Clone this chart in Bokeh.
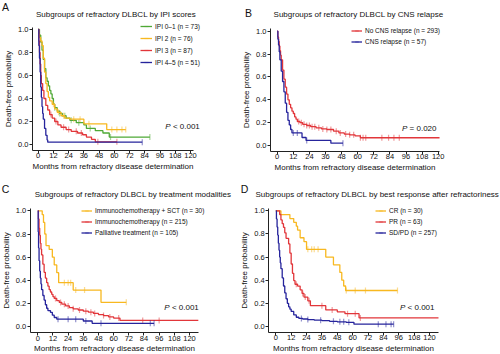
import numpy as np
from bokeh.plotting import figure
from bokeh.layouts import gridplot
from bokeh.models import (Label, Legend, LegendItem, FixedTicker, LinearAxis,
                          NumeralTickFormatter, Range1d)
from bokeh.embed import file_html
from bokeh.resources import INLINE

FONT = "Liberation Sans"
GREEN = "#4FA936"
YELLOW = "#F8B820"
RED = "#E2363A"
BLUE = "#26249C"
TXT = "#111111"

X_TICKS = [0, 12, 24, 36, 48, 60, 72, 84, 96, 108, 120]
Y_TICKS = [0.0, 0.2, 0.4, 0.6, 0.8, 1.0]

# ---------------- Panel A: IPI scores ----------------
a_green_t = [0, 1, 2, 3, 4, 5, 6, 7, 8, 9, 10, 11, 12, 13, 15, 17, 19, 22, 25, 30, 36, 38, 45, 51, 56]
a_green_s = [1, 0.95, 0.89, 0.82, 0.74, 0.66, 0.58, 0.55, 0.51, 0.47, 0.44, 0.40, 0.35, 0.32, 0.29, 0.27, 0.25, 0.23, 0.21, 0.19, 0.17, 0.14, 0.12, 0.10, 0.065]
a_green_end = 88
a_green_cens = [13, 17, 21, 26, 32, 41, 57, 88]

a_yellow_t = [0, 0.5, 1, 2, 3, 4, 5, 6, 7, 8, 9, 11, 13, 15, 18, 21, 25, 36, 54]
a_yellow_s = [1, 0.96, 0.93, 0.90, 0.86, 0.75, 0.63, 0.53, 0.46, 0.41, 0.38, 0.35, 0.31, 0.28, 0.25, 0.23, 0.22, 0.18, 0.13]
a_yellow_end = 69
a_yellow_cens = [12, 16, 20, 28, 33, 40, 58, 62, 66, 69]

a_red_t = [0, 0.5, 1, 1.5, 2, 2.5, 3.5, 4.5, 6, 7.5, 9, 11, 13, 15.5, 18, 22, 26, 31, 35, 38, 42, 45]
a_red_s = [1, 0.90, 0.80, 0.70, 0.60, 0.53, 0.47, 0.40, 0.34, 0.30, 0.26, 0.23, 0.20, 0.17, 0.15, 0.13, 0.115, 0.10, 0.085, 0.065, 0.045, 0.023]
a_red_end = 62
a_red_cens = [10, 14, 20, 24, 30, 34, 47, 62]

a_blue_t = [0, 0.5, 1, 1.5, 2, 2.5, 3, 3.5, 4, 5, 6, 7, 7.5]
a_blue_s = [1, 0.86, 0.75, 0.63, 0.50, 0.41, 0.33, 0.27, 0.22, 0.14, 0.08, 0.04, 0.02]
a_blue_end = 82
a_blue_cens = [82]

a_labels = ["IPI 0\u20131 (n = 73)", "IPI 2 (n = 76)", "IPI 3 (n = 87)", "IPI 4\u20135 (n = 51)"]

# ---------------- Panel B: CNS relapse ----------------
b_red_t = [0, 0.5, 1, 1.5, 2, 2.5, 3, 4, 5, 6, 7, 8, 9, 10, 11, 12, 13, 14, 15, 17, 19, 22, 25, 29, 33, 37, 42, 46, 50, 54, 58, 62]
b_red_s = [1, 0.95, 0.91, 0.87, 0.83, 0.79, 0.75, 0.66, 0.58, 0.51, 0.45, 0.40, 0.36, 0.33, 0.30, 0.28, 0.25, 0.23, 0.21, 0.20, 0.185, 0.175, 0.165, 0.155, 0.145, 0.14, 0.125, 0.11, 0.10, 0.093, 0.085, 0.068]
b_red_end = 121
b_red_cens = [16, 18, 20, 22, 24, 26, 28, 31, 34, 37, 40, 44, 47, 51, 54, 57, 62, 64, 66, 78, 83, 87, 91]

b_blue_t = [0, 0.5, 1, 1.5, 2, 3, 4, 5, 6, 7, 8, 9, 10, 11, 18.5, 21.5, 40]
b_blue_s = [1, 0.93, 0.88, 0.82, 0.75, 0.65, 0.56, 0.47, 0.37, 0.29, 0.22, 0.18, 0.14, 0.11, 0.07, 0.044, 0.02]
b_blue_end = 49
b_blue_cens = [12, 15, 22, 49]

b_labels = ["No CNS relapse (n = 293)", "CNS relapse (n = 57)"]

# ---------------- Panel C: treatment modalities ----------------
c_yellow_t = [0, 3.5, 4.5, 5.5, 6.5, 9, 11.5, 13, 15, 16.5, 28, 50]
c_yellow_s = [1, 0.967, 0.90, 0.80, 0.70, 0.667, 0.60, 0.533, 0.467, 0.38, 0.317, 0.211]
c_yellow_end = 70
c_yellow_cens = [21, 24, 26, 30, 37, 70]

c_red_t = [0, 0.5, 1, 1.5, 2, 2.5, 3, 4, 5, 6, 7, 8, 9, 10, 11, 12, 13, 15, 17, 19, 22, 25, 28, 32, 36, 40, 44, 48, 52, 56, 60, 65]
c_red_s = [1, 0.93, 0.85, 0.79, 0.72, 0.67, 0.62, 0.54, 0.47, 0.42, 0.38, 0.35, 0.32, 0.30, 0.28, 0.26, 0.245, 0.225, 0.21, 0.195, 0.18, 0.165, 0.155, 0.145, 0.135, 0.126, 0.115, 0.105, 0.097, 0.085, 0.075, 0.055]
c_red_end = 127
c_red_cens = [14, 18, 21, 24, 28, 33, 38, 42, 45, 52, 57, 64, 83, 96]

c_blue_t = [0, 0.3, 0.6, 1, 1.5, 2, 2.5, 3, 4, 5, 6, 7, 8, 10, 11.5, 13, 15, 36, 43]
c_blue_s = [1, 0.82, 0.68, 0.57, 0.48, 0.42, 0.37, 0.32, 0.27, 0.23, 0.19, 0.16, 0.14, 0.125, 0.10, 0.08, 0.066, 0.05, 0.03]
c_blue_end = 92
c_blue_cens = [16, 24, 30, 38, 50, 89, 92]

c_labels = ["Immunochemotherapy + SCT (n = 30)", "Immunochemotherapy (n = 215)", "Palliative treatment (n = 105)"]

# ---------------- Panel D: best response ----------------
d_yellow_t = [0, 4, 11, 14, 16, 17, 19, 22, 24, 39, 45, 50, 51.5, 53, 54.5]
d_yellow_s = [1, 0.967, 0.933, 0.90, 0.867, 0.833, 0.767, 0.733, 0.667, 0.60, 0.533, 0.467, 0.40, 0.35, 0.311]
d_yellow_end = 95
d_yellow_cens = [25, 28, 30, 33, 55, 62, 70, 95]

d_red_t = [0, 3, 4, 5, 6, 7, 8, 10, 11, 12, 13, 14, 15, 17, 19, 20.5, 22, 25, 27, 39, 48, 54, 65]
d_red_s = [1, 0.968, 0.921, 0.889, 0.857, 0.81, 0.762, 0.714, 0.635, 0.54, 0.46, 0.397, 0.365, 0.349, 0.317, 0.286, 0.254, 0.222, 0.18, 0.143, 0.127, 0.111, 0.074]
d_red_end = 127
d_red_cens = [16, 21, 23, 26, 36, 44, 56, 62, 66]

d_blue_t = [0, 0.5, 1, 1.5, 2, 2.5, 3, 3.5, 4, 5, 6, 7, 8, 9, 10, 11, 12, 14, 16, 18, 21, 25, 30, 36, 42, 48, 55, 61]
d_blue_s = [1, 0.93, 0.86, 0.79, 0.72, 0.66, 0.60, 0.55, 0.50, 0.42, 0.35, 0.29, 0.24, 0.20, 0.17, 0.15, 0.13, 0.10, 0.08, 0.07, 0.065, 0.06, 0.055, 0.05, 0.045, 0.04, 0.036, 0.02]
d_blue_end = 92
d_blue_cens = [20, 25, 35, 45, 50, 53, 57, 80, 86, 90, 92]

d_labels = ["CR (n = 30)", "PR (n = 63)", "SD/PD (n = 257)"]


def surv_at(times, surv, t):
    idx = np.searchsorted(np.asarray(times, dtype=float), np.asarray(t, dtype=float), side="right") - 1
    return list(np.asarray(surv, dtype=float)[idx])


def label(p, x, y, text, size="8px", align="left", style="normal"):
    # x: px from left of panel, y: px from top of panel
    p.add_layout(Label(x=x, y=p.height - y, x_units="screen", y_units="screen", text=text,
                       text_font=FONT, text_font_size=size, text_align=align,
                       text_baseline="middle", text_color=TXT,
                       text_font_style=style))


def panel(cfg):
    W, H = cfg["w"], cfg["h"]
    x0, pxm, y1, y0 = cfg["map"]          # pixel of month 0, px per month, pixel of 1.0, pixel of 0.0
    ppu = y0 - y1
    xr = Range1d(-x0 / pxm, (W - x0) / pxm)
    yr = Range1d(-(H - y0) / ppu, y0 / ppu)
    p = figure(width=W, height=H, x_range=xr, y_range=yr,
               output_backend="svg", toolbar_location=None,
               x_axis_location=None, y_axis_location=None,
               min_border=0, min_border_left=0, min_border_right=0,
               min_border_top=0, min_border_bottom=0)
    p.outline_line_color = None
    p.xgrid.visible = False
    p.ygrid.visible = False
    p.background_fill_color = "white"
    p.border_fill_color = "white"

    yloc, xend = cfg["axes"]
    xaxis = LinearAxis(fixed_location=-0.05, bounds=(yloc, xend),
                       ticker=FixedTicker(ticks=X_TICKS),
                       axis_label="Months from refractory disease determination")
    yaxis = LinearAxis(fixed_location=yloc, bounds=(-0.05, 1.02),
                       ticker=FixedTicker(ticks=Y_TICKS),
                       formatter=NumeralTickFormatter(format="0.0"),
                       axis_label="Death-free probability")
    for ax in (xaxis, yaxis):
        ax.major_label_text_font = FONT
        ax.major_label_text_font_size = "7.5px"
        ax.major_label_text_color = TXT
        ax.axis_label_text_font = FONT
        ax.axis_label_text_font_size = "8px"
        ax.axis_label_text_font_style = "normal"
        ax.axis_label_text_color = TXT
        ax.major_tick_in = 0
        ax.major_tick_out = 3
        ax.minor_tick_in = 0
        ax.minor_tick_out = 0
        ax.axis_line_color = "#222222"
        ax.major_tick_line_color = "#222222"
    xaxis.major_label_standoff = 0
    xaxis.axis_label_standoff = 0
    yaxis.major_label_standoff = 1
    yaxis.axis_label_standoff = 2
    p.add_layout(xaxis, "below")
    p.add_layout(yaxis, "left")

    items = []
    for (t, s, end, cens, color, lab) in cfg["series"]:
        xs = list(t) + [end]
        ys = list(s) + [s[-1]]
        lr = p.step(xs, ys, mode="after", line_color=color, line_width=1.3)
        cr = p.scatter(cens, surv_at(t, s, cens), marker="dash", angle=np.pi / 2,
                       size=6, line_color=color, line_alpha=0.5, line_width=1.2)
        items.append(LegendItem(label=lab, renderers=[lr, cr]))

    gx, top_row, lh = cfg["legend"]
    n = len(items)
    bottom = top_row - lh / 2 + n * lh + (n - 1) * 2
    legend = Legend(items=items, location=(gx, H - bottom), orientation="vertical",
                    padding=0, margin=0, spacing=2,
                    glyph_width=cfg["gw"], glyph_height=lh, label_height=lh,
                    label_standoff=3, label_text_font=FONT, label_text_font_size="6.5px",
                    label_text_color=TXT,
                    border_line_color=None, background_fill_alpha=0)
    p.add_layout(legend)

    lx, ly, ltxt = cfg["letter"]
    label(p, lx, ly, ltxt, size="10.5px", align="center")
    tx, ty, ttxt = cfg["title"]
    label(p, tx, ty, ttxt, size="8px", align="center")
    pr, py, ptxt = cfg["pval"]
    x_rest = pr - 26.9
    label(p, x_rest - 2.2, py, "P", size="8px", align="right", style="italic")
    label(p, x_rest, py, ptxt, size="8px", align="left")
    return p


pA = panel(dict(w=236, h=172, map=(37.7, 1.269, 29.0, 144.0), axes=(-4.5, 122.5),
                series=[(a_green_t, a_green_s, a_green_end, a_green_cens, GREEN, a_labels[0]),
                        (a_yellow_t, a_yellow_s, a_yellow_end, a_yellow_cens, YELLOW, a_labels[1]),
                        (a_red_t, a_red_s, a_red_end, a_red_cens, RED, a_labels[2]),
                        (a_blue_t, a_blue_s, a_blue_end, a_blue_cens, BLUE, a_labels[3])],
                legend=(140, 26, 10), gw=12,
                letter=(5, 6.5, "A"),
                title=(115.5, 14, "Subgroups of refractory DLBCL by IPI scores"),
                pval=(199.3, 126, "< 0.001")))

pB = panel(dict(w=264, h=172, map=(40.7, 1.3417, 30.7, 145.0), axes=(-5, 121),
                series=[(b_red_t, b_red_s, b_red_end, b_red_cens, RED, b_labels[0]),
                        (b_blue_t, b_blue_s, b_blue_end, b_blue_cens, BLUE, b_labels[1])],
                legend=(115, 30.7, 9), gw=11,
                letter=(12, 12, "B"),
                title=(122, 14, "Subgroups of refractory DLBCL by CNS relapse"),
                pval=(200, 128, "= 0.020")))

pC = panel(dict(w=236, h=182, map=(37.3, 1.264, 38.3, 154.3), axes=(-6, 127),
                series=[(c_yellow_t, c_yellow_s, c_yellow_end, c_yellow_cens, YELLOW, c_labels[0]),
                        (c_red_t, c_red_s, c_red_end, c_red_cens, RED, c_labels[1]),
                        (c_blue_t, c_blue_s, c_blue_end, c_blue_cens, BLUE, c_labels[2])],
                legend=(81, 38.3, 9), gw=11,
                letter=(5, 16.7, "C"),
                title=(132.5, 21.7, "Subgroups of refractory DLBCL by treatment modalities"),
                pval=(198.3, 135, "< 0.001")))

pD = panel(dict(w=264, h=182, map=(39.3, 1.281, 38.3, 154.0), axes=(-5.5, 127),
                series=[(d_yellow_t, d_yellow_s, d_yellow_end, d_yellow_cens, YELLOW, d_labels[0]),
                        (d_red_t, d_red_s, d_red_end, d_red_cens, RED, d_labels[1]),
                        (d_blue_t, d_blue_s, d_blue_end, d_blue_cens, BLUE, d_labels[2])],
                legend=(139, 38.3, 9), gw=11,
                letter=(8, 16.7, "D"),
                title=(140.8, 22.3, "Subgroups of refractory DLBCL by best response after refractoriness"),
                pval=(198, 135, "< 0.001")))

grid = gridplot([[pA, pB], [pC, pD]], toolbar_location=None)

open("out.html", "w").write(file_html(grid, INLINE))
